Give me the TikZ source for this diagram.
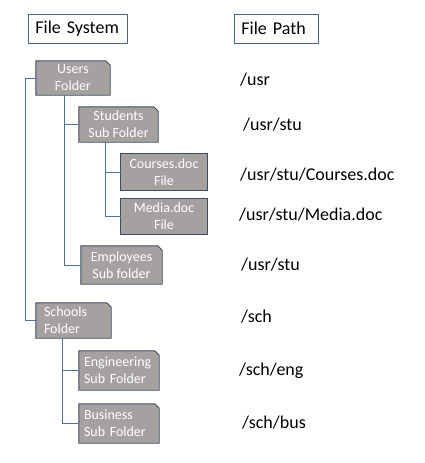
\documentclass[tikz,border=0pt]{standalone}
\usepackage{fontspec}
\setmainfont{Carlito}
\usetikzlibrary{backgrounds}
\definecolor{boxfill}{RGB}{166,161,161}
\definecolor{boxline}{RGB}{62,76,96}
\definecolor{headline}{RGB}{72,102,138}
\definecolor{conn}{RGB}{84,112,145}
\tikzset{
  header/.style={draw=headline, line width=0.8pt, align=left, inner xsep=7pt, inner ysep=0pt,
    minimum height=29pt, font=\fontsize{18}{21}\selectfont, anchor=west},
  gbox/.style={draw=none, text=white, inner ysep=0pt, inner xsep=0pt,
    font=\fontsize{14}{17}\selectfont},
  gshape/.style={fill=boxfill, draw=boxline, line width=0.9pt},
  pathtext/.style={anchor=base west, inner sep=0pt, font=\fontsize{18}{21}\selectfont},
  conline/.style={draw=conn, line width=0.8pt},
}
\begin{document}
\begin{tikzpicture}[x=1pt,y=-1pt]
\useasboundingbox (0,0) rectangle (425,463);
% headers
\node[header, text width=85pt] (fs) at (28,28.5) {File System};
\node[header, text width=70pt] (fp) at (234,28.5) {File Path};
% gray boxes
\node[gbox, align=center, minimum width=74pt, minimum height=34pt] (users) at (73,78) {Users\\Folder};
\node[gbox, align=center, minimum width=79pt, minimum height=35pt] (students) at (118.5,124.5) {Students\\Sub Folder};
\node[gbox, align=center, minimum width=86pt, minimum height=36pt] (courses) at (164,172) {Courses.doc\\File};
\node[gbox, align=center, minimum width=86pt, minimum height=35pt] (media) at (164,216.5) {Media.doc\\File};
\node[gbox, align=center, minimum width=81pt, minimum height=38pt] (employees) at (121.5,265) {Employees\\Sub folder};
\node[gbox, align=left, text width=59pt, inner xsep=8pt, minimum height=35pt] (schools) at (73.5,320.5) {Schools\\Folder};
\node[gbox, align=left, text width=70pt, inner xsep=5pt, minimum height=39pt] (eng) at (119,370.5) {Engineering\\Sub Folder};
\node[gbox, align=left, text width=70pt, inner xsep=5pt, minimum height=39pt] (bus) at (119,423.5) {Business\\Sub Folder};
\begin{scope}[on background layer]
\foreach \n in {users,students,employees,schools,eng,bus}{
  \path[gshape] (\n.south west) -- (\n.north west) -- ([xshift=-4.5pt]\n.north east)
     -- ([yshift=-4.5pt]\n.north east) -- (\n.south east) -- cycle;
}
\foreach \n in {courses,media}{
  \path[gshape] (\n.south west) rectangle (\n.north east);
}
\end{scope}
% connectors
\draw[conline] (users.west) -- ++(-10,0) |- (schools.west);
\draw[conline] ([xshift=-9pt]users.south) |- (students.west);
\draw[conline] ([xshift=-9pt]users.south) |- (employees.west);
\draw[conline] ([xshift=-13.5pt]students.south) |- (courses.west);
\draw[conline] ([xshift=-13.5pt]students.south) |- (media.west);
\draw[conline] ([xshift=-11.5pt]schools.south) |- (eng.west);
\draw[conline] ([xshift=-11.5pt]schools.south) |- (bus.west);
% path texts
\node[pathtext] (p1) at (240,85) {/usr};
\node[pathtext] (p2) at (243,130) {/usr/stu};
\node[pathtext] (p3) at (240,180) {/usr/stu/Courses.doc};
\node[pathtext] (p4) at (239,220) {/usr/stu/Media.doc};
\node[pathtext] (p5) at (241,270) {/usr/stu};
\node[pathtext] (p6) at (241,322) {/sch};
\node[pathtext] (p7) at (239,375) {/sch/eng};
\node[pathtext] (p8) at (242,428) {/sch/bus};
\end{tikzpicture}
\end{document}
